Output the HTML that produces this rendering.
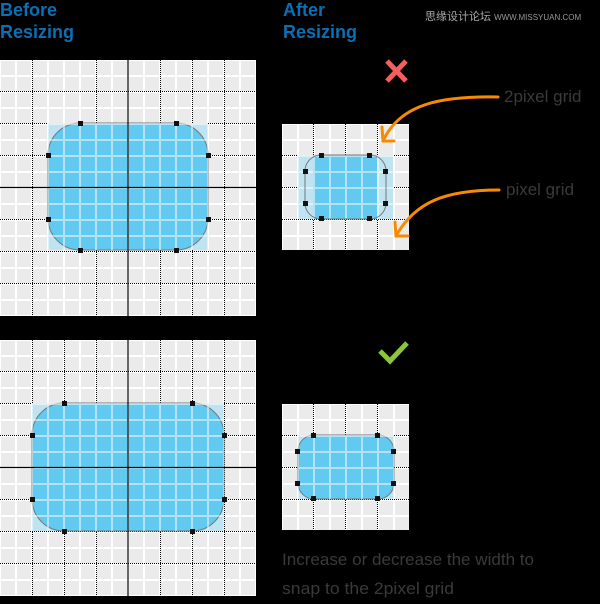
<!DOCTYPE html>
<html><head><meta charset="utf-8"><style>
html,body{margin:0;padding:0;background:#000;}
svg{display:block}
</style></head><body>
<svg width="600" height="604" viewBox="0 0 600 604" xmlns="http://www.w3.org/2000/svg" font-family="Liberation Sans, sans-serif">
<defs>
<pattern id="g" width="16" height="16" patternUnits="userSpaceOnUse" x="-1" y="-1">
<rect width="16" height="16" fill="#ebebeb"/>
<rect x="0" y="0" width="2" height="16" fill="#fff"/>
<rect x="0" y="0" width="16" height="2" fill="#fff"/>
</pattern>
<pattern id="w" width="16" height="16" patternUnits="userSpaceOnUse" x="-1" y="-1">
<rect x="0" y="0" width="2" height="16" fill="#fff" opacity="0.5"/>
<rect x="2" y="0" width="14" height="2" fill="#fff" opacity="0.5"/>
</pattern>
</defs>
<rect width="600" height="604" fill="#000"/>

<text x="0" y="16" font-size="18" font-weight="bold" fill="#0a6fb5">Before</text>
<text x="0" y="38" font-size="18" font-weight="bold" fill="#0a6fb5">Resizing</text>
<text x="283" y="16" font-size="18" font-weight="bold" fill="#0a6fb5">After</text>
<text x="283" y="38" font-size="18" font-weight="bold" fill="#0a6fb5">Resizing</text>
<text x="425" y="20" font-size="11" fill="#aaa" font-family="Liberation Sans, Noto Sans CJK SC, sans-serif">思缘设计论坛 <tspan font-size="8" fill="#999">WWW.MISSYUAN.COM</tspan></text>

<!-- Top-left grid -->
<g transform="translate(0,60)">
<rect width="256" height="256" fill="url(#g)"/>
<g stroke="#000" stroke-width="1" stroke-dasharray="1,1">
<line x1="32.5" y1="0" x2="32.5" y2="256"/><line x1="96.5" y1="0" x2="96.5" y2="256"/><line x1="160.5" y1="0" x2="160.5" y2="256"/><line x1="192.5" y1="0" x2="192.5" y2="256"/><line x1="224.5" y1="0" x2="224.5" y2="256"/>
<line y1="31.5" x1="0" y2="31.5" x2="256"/><line y1="63.5" x1="0" y2="63.5" x2="256"/><line y1="95.5" x1="0" y2="95.5" x2="256"/><line y1="159.5" x1="0" y2="159.5" x2="256"/><line y1="191.5" x1="0" y2="191.5" x2="256"/><line y1="223.5" x1="0" y2="223.5" x2="256"/>
</g>
<rect x="48" y="63" width="160" height="127" fill="#bfe3f0"/>
<rect x="48" y="63" width="160" height="127" rx="32" fill="#62c9f0" stroke="#777" stroke-width="1"/>
<rect x="48" y="63" width="160" height="127" fill="url(#w)"/>
<g stroke="#000" stroke-width="1.2"><line x1="128" y1="0" x2="128" y2="256"/><line x1="0" y1="127.5" x2="256" y2="127.5"/></g>
<g fill="#111"><rect x="78" y="61" width="5" height="5"/><rect x="174" y="61" width="5" height="5"/><rect x="78" y="188" width="5" height="5"/><rect x="174" y="188" width="5" height="5"/><rect x="46" y="93" width="5" height="5"/><rect x="46" y="157" width="5" height="5"/><rect x="206" y="93" width="5" height="5"/><rect x="206" y="157" width="5" height="5"/></g>
</g>

<!-- Bottom-left grid -->
<g transform="translate(0,340)">
<rect width="256" height="256" fill="url(#g)"/>
<g stroke="#000" stroke-width="1" stroke-dasharray="1,1">
<line x1="32.5" y1="0" x2="32.5" y2="256"/><line x1="64.5" y1="0" x2="64.5" y2="256"/><line x1="96.5" y1="0" x2="96.5" y2="256"/><line x1="160.5" y1="0" x2="160.5" y2="256"/><line x1="192.5" y1="0" x2="192.5" y2="256"/><line x1="224.5" y1="0" x2="224.5" y2="256"/>
<line y1="31.5" x1="0" y2="31.5" x2="256"/><line y1="63.5" x1="0" y2="63.5" x2="256"/><line y1="95.5" x1="0" y2="95.5" x2="256"/><line y1="159.5" x1="0" y2="159.5" x2="256"/><line y1="191.5" x1="0" y2="191.5" x2="256"/><line y1="223.5" x1="0" y2="223.5" x2="256"/>
</g>
<rect x="32" y="63" width="192" height="128" fill="#bfe3f0"/>
<rect x="32" y="63" width="192" height="128" rx="32" fill="#62c9f0" stroke="#777" stroke-width="1"/>
<rect x="32" y="63" width="192" height="128" fill="url(#w)"/>
<g stroke="#000" stroke-width="1.2"><line x1="128" y1="0" x2="128" y2="256"/><line x1="0" y1="127.5" x2="256" y2="127.5"/></g>
<g fill="#111"><rect x="62" y="61" width="5" height="5"/><rect x="190" y="61" width="5" height="5"/><rect x="62" y="189" width="5" height="5"/><rect x="190" y="189" width="5" height="5"/><rect x="30" y="93" width="5" height="5"/><rect x="30" y="157" width="5" height="5"/><rect x="222" y="93" width="5" height="5"/><rect x="222" y="157" width="5" height="5"/></g>
</g>

<!-- Top-right grid -->
<g transform="translate(282,124)">
<rect width="127" height="126" fill="url(#g)"/>
<g stroke="#000" stroke-width="1" stroke-dasharray="1,1">
<line x1="31.5" y1="0" x2="31.5" y2="126"/><line x1="63.5" y1="0" x2="63.5" y2="126"/><line x1="95.5" y1="0" x2="95.5" y2="126"/>
<line y1="31.5" x1="0" y2="31.5" x2="127"/><line y1="63.5" x1="0" y2="63.5" x2="127"/><line y1="95.5" x1="0" y2="95.5" x2="127"/>
</g>
<rect x="16" y="31" width="95" height="64" fill="#bfe3f0"/>
<rect x="31" y="31" width="64" height="64" fill="#62c9f0"/>
<rect x="16" y="31" width="95" height="64" fill="url(#w)"/>
<rect x="23" y="31" width="81" height="64" rx="16" fill="none" stroke="#777" stroke-width="1"/>
<g fill="#111"><rect x="37" y="29" width="5" height="5"/><rect x="85" y="29" width="5" height="5"/><rect x="37" y="92" width="5" height="5"/><rect x="85" y="92" width="5" height="5"/><rect x="21" y="45" width="5" height="5"/><rect x="21" y="77" width="5" height="5"/><rect x="101" y="45" width="5" height="5"/><rect x="101" y="77" width="5" height="5"/></g>
</g>

<!-- Bottom-right grid -->
<g transform="translate(282,404)">
<rect width="127" height="126" fill="url(#g)"/>
<g stroke="#000" stroke-width="1" stroke-dasharray="1,1">
<line x1="31.5" y1="0" x2="31.5" y2="126"/><line x1="63.5" y1="0" x2="63.5" y2="126"/><line x1="95.5" y1="0" x2="95.5" y2="126"/>
<line y1="31.5" x1="0" y2="31.5" x2="127"/><line y1="63.5" x1="0" y2="63.5" x2="127"/><line y1="95.5" x1="0" y2="95.5" x2="127"/>
</g>
<rect x="16" y="31" width="96" height="64" fill="#bfe3f0"/>
<rect x="16" y="31" width="96" height="64" rx="16" fill="#62c9f0" stroke="#777" stroke-width="1"/>
<rect x="16" y="31" width="96" height="64" fill="url(#w)"/>
<g fill="#111"><rect x="29" y="29" width="5" height="5"/><rect x="93" y="29" width="5" height="5"/><rect x="29" y="92" width="5" height="5"/><rect x="93" y="92" width="5" height="5"/><rect x="13" y="45" width="5" height="5"/><rect x="13" y="77" width="5" height="5"/><rect x="109" y="45" width="5" height="5"/><rect x="109" y="77" width="5" height="5"/></g>
</g>

<!-- X mark -->
<g stroke="#f65e5e" stroke-width="5"><line x1="387" y1="61" x2="406" y2="81"/><line x1="406" y1="61" x2="387" y2="81"/></g>
<!-- Check mark -->
<polyline points="380,351 390,361 407,343" fill="none" stroke="#8cc43c" stroke-width="5"/>

<!-- Arrows -->
<g fill="none" stroke="#f98a00" stroke-width="3" stroke-linecap="round">
<path d="M498,97 C440,96 400,104 383,141"/>
<path d="M383,141 L382,127 M383,141 L394,141"/>
<path d="M499,190 C445,190 415,202 396,236"/>
<path d="M396,236 L395,222 M396,236 L408,236"/>
</g>

<g fill="#3a3a3a" font-size="17">
<text x="504" y="102">2pixel grid</text>
<text x="506" y="195">pixel grid</text>
<text x="282" y="565" textLength="252" lengthAdjust="spacingAndGlyphs">Increase or decrease the width to</text>
<text x="282" y="594" textLength="172" lengthAdjust="spacingAndGlyphs">snap to the 2pixel grid</text>
</g>
</svg>
</body></html>
